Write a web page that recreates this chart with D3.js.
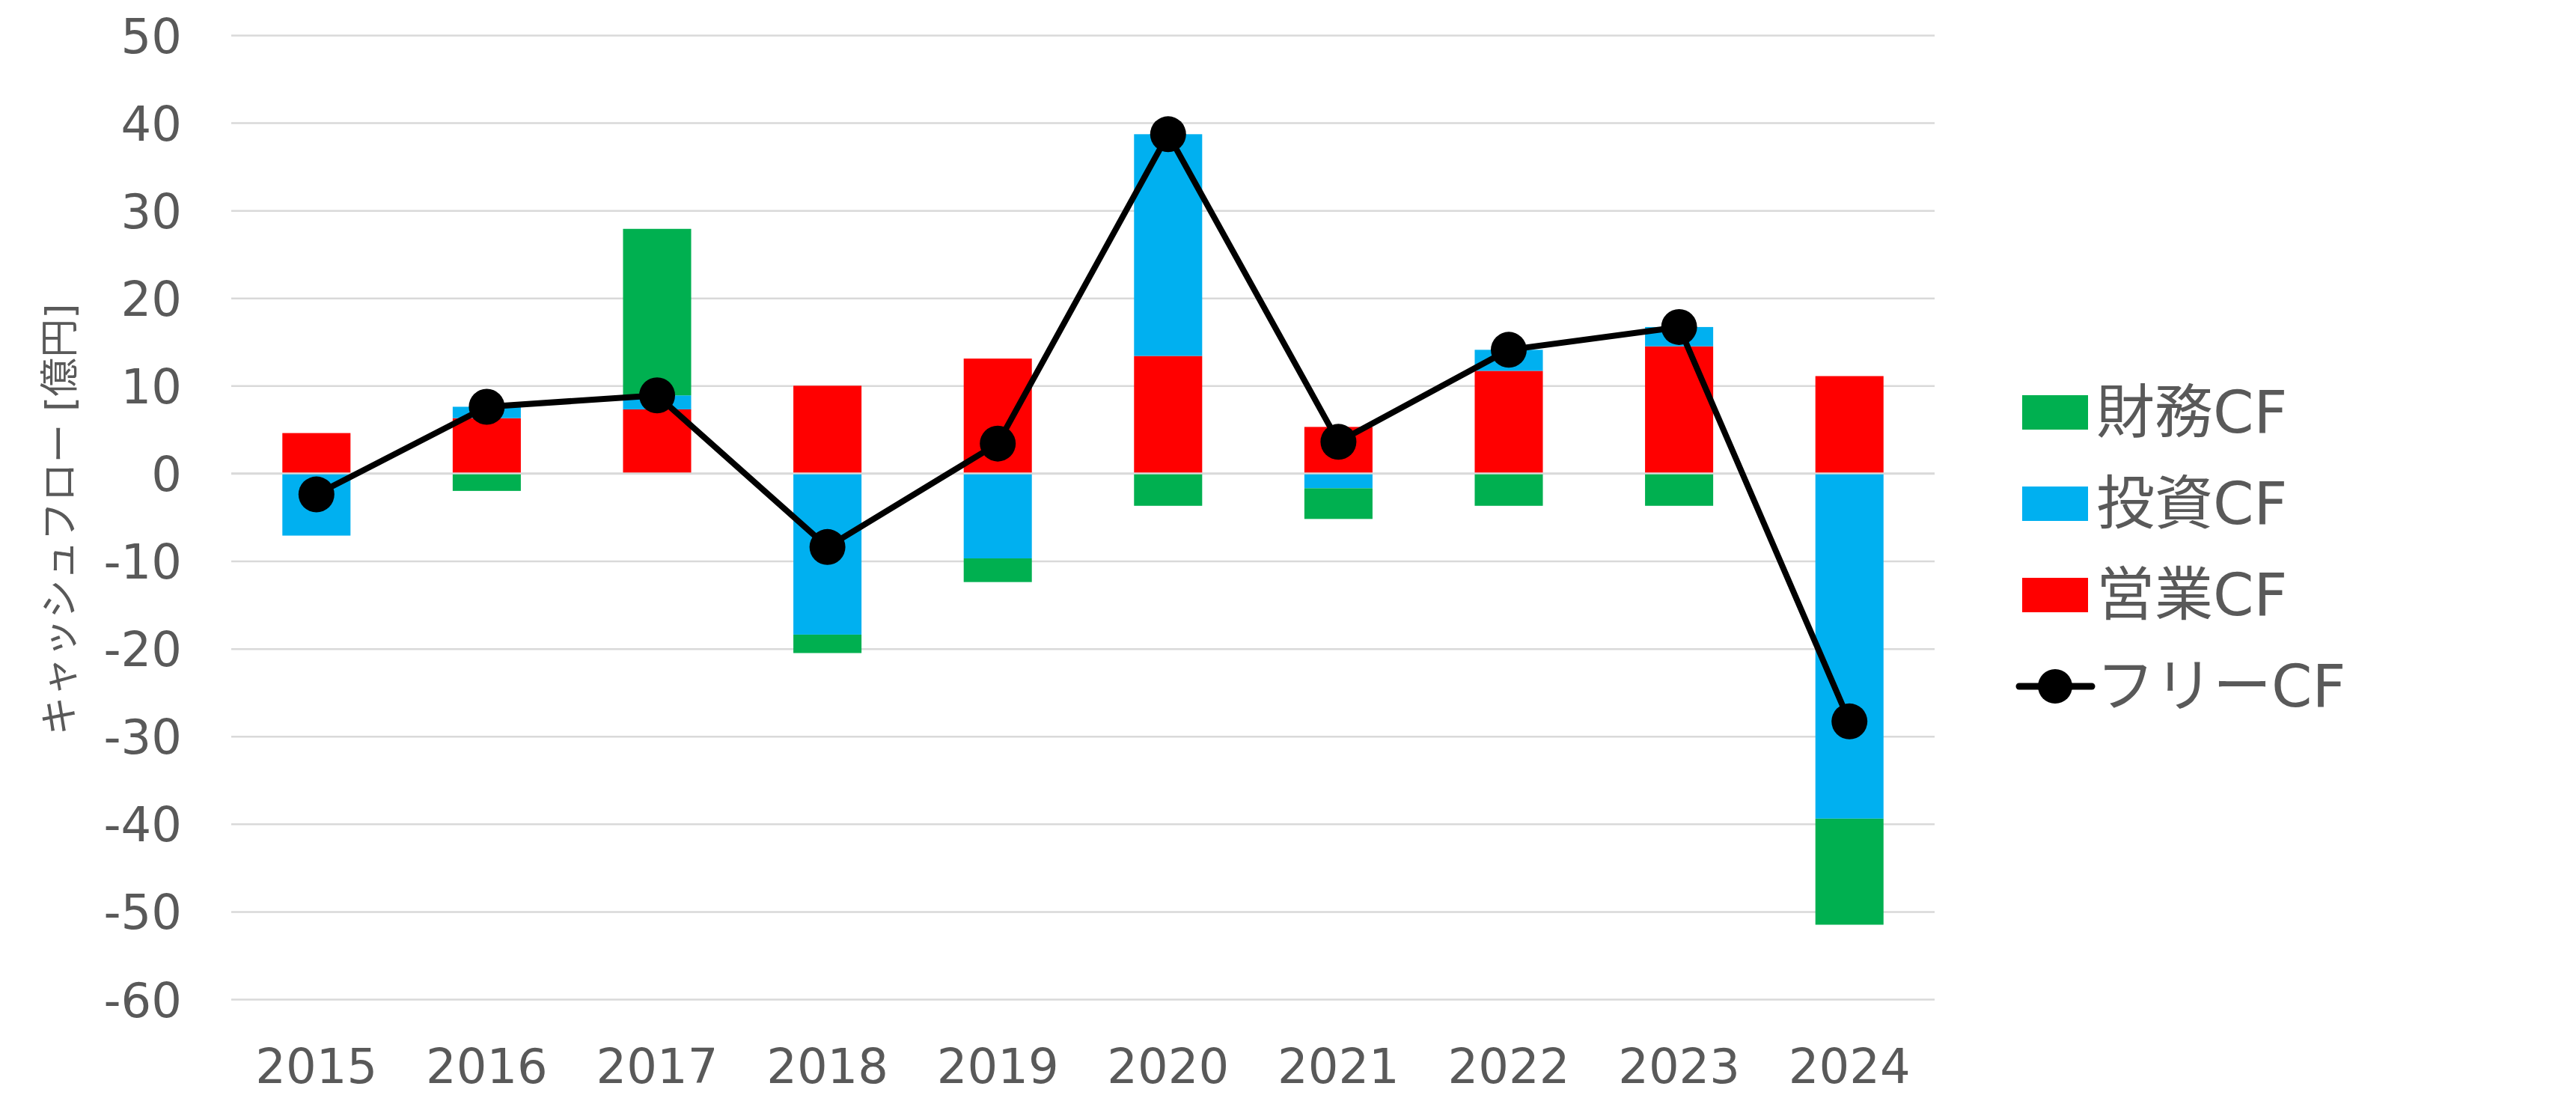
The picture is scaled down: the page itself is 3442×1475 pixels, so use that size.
<!DOCTYPE html>
<html>
<head>
<meta charset="utf-8">
<script src="https://cdn.jsdelivr.net/npm/d3@7"></script>
<style>
  html, body { margin: 0; padding: 0; background: #fff; }
  svg { display: block; }
  text { font-family: "DejaVu Sans", "Noto Sans CJK JP", sans-serif; fill: #595959; }
</style>
</head>
<body>
<svg id="chart" width="3442" height="1475"></svg>
<script>
// ---- data ----
const years = ["2015", "2016", "2017", "2018", "2019", "2020", "2021", "2022", "2023", "2024"];
const operatingCF = [4.6, 6.3, 7.3, 10.0, 13.1, 13.4, 5.3, 11.7, 14.5, 11.1];
const investingCF = [-7.1, 1.3, 1.6, -18.4, -9.7, 25.3, -1.7, 2.4, 2.2, -39.4];
const financingCF = [0, -2.0, 19.0, -2.1, -2.7, -3.7, -3.5, -3.7, -3.7, -12.1];
const freeCF = [-2.4, 7.6, 8.9, -8.4, 3.4, 38.7, 3.6, 14.1, 16.7, -28.3];
const yTicks = [-60, -50, -40, -30, -20, -10, 0, 10, 20, 30, 40, 50];
const seriesKeys = ["営業CF", "投資CF", "財務CF"];
const seriesColors = { "営業CF": "#FF0000", "投資CF": "#00B0F0", "財務CF": "#00B050" };
const legendOrder = ["財務CF", "投資CF", "営業CF"];
const freeLabel = "フリーCF";
const yTitle = "キャッシュフロー [億円]";

// ---- layout ----
const plotLeft = 309, plotRight = 2585, plotTop = 47, plotBottom = 1335;
const svg = d3.select("#chart");

const table = years.map((y, i) => ({
  year: y,
  "営業CF": operatingCF[i],
  "投資CF": investingCF[i],
  "財務CF": financingCF[i],
  free: freeCF[i]
}));

const x = d3.scaleBand().domain(years).range([plotLeft, plotRight])
  .paddingInner(0.6).paddingOuter(0.3);
const y = d3.scaleLinear().domain([-60, 50]).range([plotBottom, plotTop]);

// gridlines
svg.append("g")
  .attr("transform", `translate(${plotLeft},0)`)
  .call(d3.axisLeft(y).tickValues(yTicks).tickSize(-(plotRight - plotLeft)).tickFormat(""))
  .call(g => g.select(".domain").remove())
  .call(g => g.selectAll("line").attr("stroke", "#D9D9D9").attr("stroke-width", 2.5));

// stacked bars
const stack = d3.stack().keys(seriesKeys).offset(d3.stackOffsetDiverging);
const stacked = stack(table);
svg.append("g").selectAll("g")
  .data(stacked)
  .join("g")
  .attr("fill", d => seriesColors[d.key])
  .selectAll("rect")
  .data(d => d)
  .join("rect")
  .attr("x", d => x(d.data.year))
  .attr("width", x.bandwidth())
  .attr("y", d => y(Math.max(d[0], d[1])))
  .attr("height", d => Math.abs(y(d[0]) - y(d[1])));

// zero line on top (thin gap as in reference)
svg.append("line")
  .attr("x1", plotLeft).attr("x2", plotRight)
  .attr("y1", y(0)).attr("y2", y(0))
  .attr("stroke", "#D9D9D9").attr("stroke-width", 2.5);

// free CF line
const line = d3.line()
  .x(d => x(d.year) + x.bandwidth() / 2)
  .y(d => y(d.free));
svg.append("path")
  .datum(table)
  .attr("d", line)
  .attr("fill", "none")
  .attr("stroke", "#000")
  .attr("stroke-width", 8)
  .attr("stroke-linejoin", "round");
svg.append("g").selectAll("circle")
  .data(table)
  .join("circle")
  .attr("cx", d => x(d.year) + x.bandwidth() / 2)
  .attr("cy", d => y(d.free))
  .attr("r", 24)
  .attr("fill", "#000");

// y axis labels
svg.append("g")
  .attr("transform", `translate(${plotLeft},0)`)
  .call(d3.axisLeft(y).tickValues(yTicks).tickSize(0).tickPadding(66).tickFormat(d => String(d)))
  .call(g => g.select(".domain").remove())
  .call(g => g.selectAll("text")
    .attr("dy", "0.36em")
    .style("font-size", "64px")
    .style("font-family", "'DejaVu Sans', sans-serif")
    .attr("fill", "#595959"));

// x axis labels
svg.append("g")
  .attr("transform", `translate(0,${plotBottom})`)
  .call(d3.axisBottom(x).tickSize(0))
  .call(g => g.select(".domain").remove())
  .call(g => g.selectAll("text")
    .attr("y", 112).attr("dy", null)
    .style("font-size", "64px")
    .style("font-family", "'DejaVu Sans', sans-serif")
    .attr("fill", "#595959"));

// y title
svg.append("text")
  .attr("transform", "translate(80,694) rotate(-90)")
  .attr("text-anchor", "middle")
  .attr("dominant-baseline", "central")
  .style("font-size", "52px")
  .text(yTitle);

// legend
const legendX = 2702, rowY0 = 551, rowStep = 122;
const lg = svg.append("g");
legendOrder.forEach((k, i) => {
  const cy = rowY0 + i * rowStep;
  lg.append("rect")
    .attr("x", legendX).attr("y", cy - 23)
    .attr("width", 88).attr("height", 46)
    .attr("fill", seriesColors[k]);
  lg.append("text")
    .attr("x", 2801).attr("y", cy)
    .attr("dominant-baseline", "central")
    .style("font-size", "78px")
    .text(k);
});
{
  const cy = rowY0 + 3 * rowStep;
  lg.append("line")
    .attr("x1", 2698).attr("x2", 2795).attr("y1", cy).attr("y2", cy)
    .attr("stroke", "#000").attr("stroke-width", 9).attr("stroke-linecap", "round");
  lg.append("circle").attr("cx", 2746).attr("cy", cy).attr("r", 23).attr("fill", "#000");
  lg.append("text")
    .attr("x", 2801).attr("y", cy)
    .attr("dominant-baseline", "central")
    .style("font-size", "78px")
    .text(freeLabel);
}
</script>
</body>
</html>
